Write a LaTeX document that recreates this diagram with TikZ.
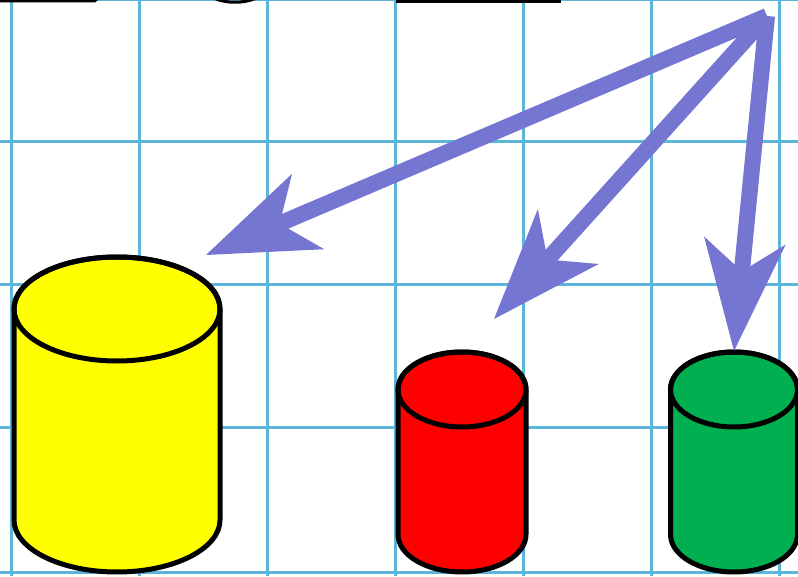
\documentclass[tikz,border=0pt]{standalone}
\usetikzlibrary{arrows.meta}
\definecolor{gridcol}{RGB}{92,182,218}
\definecolor{arrowcol}{RGB}{117,117,210}
\definecolor{cylyellow}{RGB}{255,255,0}
\definecolor{cylred}{RGB}{255,0,0}
\definecolor{cylgreen}{RGB}{0,176,80}
\tikzset{
  gridline/.style={draw=gridcol, line width=3pt},
  cylbody/.style={draw=black, line width=5pt, line join=round},
  bigarrow/.style={draw=arrowcol, line width=16pt,
    -{Stealth[length=111pt, width=82pt, inset=31pt, line width=0pt]}},
}
\begin{document}
\begin{tikzpicture}[x=1pt, y=1pt]
\clip (0,0) rectangle (798,576);
\fill[white] (0,0) rectangle (798,576);
% grid
\foreach \gx in {11,139,267,395,523,651,779}
  \draw[gridline] (\gx,0) -- (\gx,576);
\foreach \gy in {576,434,291,148,4}
  \draw[gridline] (0,\gy) -- (798,\gy);
% cut-off black shapes at the top edge
\fill[black] (0,573.5) -- (95,573.5) -- (98,576) -- (0,576) -- cycle;
\draw[black, line width=3pt] (212,579) .. controls (224,572) and (246,572) .. (258,579);
\fill[black] (396,572.5) rectangle (561,576);
% yellow cylinder
\coordinate (ycyl) at (117,267);
\filldraw[cylbody, fill=cylyellow] (14,267) -- (14,56)
  arc[start angle=180, end angle=360, x radius=103, y radius=52] -- (220,267)
  arc[start angle=0, end angle=180, x radius=103, y radius=52] -- cycle;
\draw[cylbody] (ycyl) ellipse[x radius=103, y radius=52];
% red cylinder
\coordinate (rcyl) at (462,186.5);
\filldraw[cylbody, fill=cylred] (398,186.5) -- (398,41.5)
  arc[start angle=180, end angle=360, x radius=64, y radius=37.5] -- (526,186.5)
  arc[start angle=0, end angle=180, x radius=64, y radius=37.5] -- cycle;
\draw[cylbody] (rcyl) ellipse[x radius=64, y radius=37.5];
% green cylinder
\coordinate (gcyl) at (734,186.5);
\filldraw[cylbody, fill=cylgreen] (670.5,186.5) -- (670.5,41.5)
  arc[start angle=180, end angle=360, x radius=63.5, y radius=37.5] -- (797.5,186.5)
  arc[start angle=0, end angle=180, x radius=63.5, y radius=37.5] -- cycle;
\draw[cylbody] (gcyl) ellipse[x radius=63.5, y radius=37.5];
% arrows
\coordinate (src) at (767,560);
\coordinate (ytip) at (206,321);
\coordinate (rtip) at (494,257);
\coordinate (gtip) at (734,225);
\draw[bigarrow] (src) -- (ytip);
\draw[bigarrow] (src) -- (rtip);
\draw[bigarrow] (src) -- (gtip);
\end{tikzpicture}
\end{document}
